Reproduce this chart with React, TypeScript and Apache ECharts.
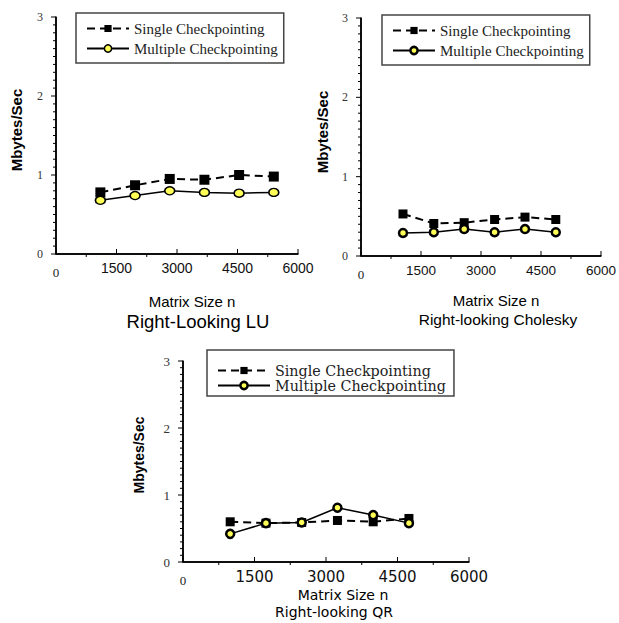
import React, { useEffect, useRef } from 'react';
import * as echarts from 'echarts';

// ---- data ----
const seriesNames = ['Single Checkpointing', 'Multiple Checkpointing'];
const panelTitles = ['Right-Looking LU', 'Right-looking Cholesky', 'Right-looking QR'];
const xAxisTitle = 'Matrix Size n';
const yAxisTitle = 'Mbytes/Sec';

const luSizes = [1100, 1960, 2820, 3680, 4540, 5400];
const luSingle = [0.78, 0.87, 0.95, 0.94, 1.0, 0.98];
const luMultiple = [0.68, 0.74, 0.8, 0.78, 0.77, 0.78];

const cholSizes = [1050, 1820, 2580, 3340, 4100, 4870];
const cholSingle = [0.53, 0.41, 0.42, 0.46, 0.49, 0.46];
const cholMultiple = [0.29, 0.3, 0.34, 0.3, 0.34, 0.3];

const qrSizes = [990, 1740, 2490, 3240, 3990, 4740];
const qrSingle = [0.6, 0.58, 0.59, 0.62, 0.6, 0.65];
const qrMultiple = [0.42, 0.58, 0.59, 0.81, 0.7, 0.58];

const xMin = 0;
const xMax = 6000;
const xStep = 1500;
const xMinorDiv = 2;
const yMin = 0;
const yMax = 3;
const yStep = 1;
const yMinorDiv = 10;

const panels: any[] = [
  {
    sizes: luSizes, single: luSingle, multiple: luMultiple, title: panelTitles[0],
    grid: { left: 56, top: 17, width: 242, height: 237 },
    legend: { left: 76, top: 13, padding: [8, 6, 7, 10], itemWidth: 42, font: 'Liberation Serif', fontSize: 15, lineHeight: 14, itemGap: 5 },
    tickFont: 'Liberation Sans', tickSize: 14,
    xNameSize: 15, xNameFont: 'Liberation Sans', xNameGap: 40, xNameShift: 30,
    yNameSize: 15, yNameGap: 32, yNameShift: 11, yLabelSize: 12,
    titleTop: 312, titleX: 198, titleSize: 18.5, titleFont: 'Liberation Sans',
    squareSize: 10, circleSize: [10, 8], circleBorder: 1.5,
  },
  {
    sizes: cholSizes, single: cholSingle, multiple: cholMultiple, title: panelTitles[1],
    grid: { left: 361, top: 18, width: 243, height: 238 },
    legend: { left: 382, top: 15, padding: [8, 6, 7, 10], itemWidth: 42, font: 'Liberation Serif', fontSize: 15, lineHeight: 14, itemGap: 5 },
    tickFont: 'Liberation Sans', tickSize: 13.5,
    xNameSize: 15, xNameFont: 'Liberation Sans', xNameGap: 37, xNameShift: 30,
    yNameSize: 15, yNameGap: 31, yNameShift: 10, yLabelSize: 12,
    titleTop: 311, titleX: 498, titleSize: 15.5, titleFont: 'Liberation Sans',
    squareSize: 9, circleSize: 8, circleBorder: 2.5,
  },
  {
    sizes: qrSizes, single: qrSingle, multiple: qrMultiple, title: panelTitles[2],
    grid: { left: 183, top: 361, width: 286, height: 201 },
    legend: { left: 207, top: 350, padding: [13, 8, 3, 10], itemWidth: 52, font: 'DejaVu Serif', fontSize: 14.3, lineHeight: 15, itemGap: 0 },
    tickFont: 'DejaVu Sans', tickSize: 15,
    xNameSize: 14, xNameFont: 'DejaVu Sans', xNameGap: 24, xNameShift: 34,
    yNameSize: 14, yNameGap: 37, yNameShift: 13, yLabelSize: 13,
    titleTop: 605, titleX: 334, titleSize: 14, titleFont: 'DejaVu Sans',
    squareSize: 9, circleSize: 8, circleBorder: 2.5,
  },
];

const YELLOW = '#ffff55';

// tick positions derived from the axis settings
const xMajorTicks: number[] = [];
const xMinorTicks: number[] = [];
for (let k = 0; k <= Math.round((xMax - xMin) / xStep); k++) {
  xMajorTicks.push(xMin + k * xStep);
  if (xMin + k * xStep < xMax) {
    for (let m = 1; m < xMinorDiv; m++) xMinorTicks.push(xMin + k * xStep + (m * xStep) / xMinorDiv);
  }
}
const yMajorTicks: number[] = [];
const yMinorTicks: number[] = [];
for (let k = 0; k <= Math.round(((yMax - yMin) / yStep) * yMinorDiv); k++) {
  const v = +(yMin + (k * yStep) / yMinorDiv).toFixed(4);
  if (k % yMinorDiv === 0) yMajorTicks.push(v);
  else yMinorTicks.push(v);
}

function tickSeries(i: number, data: number[][], size: number[], offset: number[]) {
  return {
    type: 'scatter',
    name: 'tick',
    xAxisIndex: i,
    yAxisIndex: i,
    data,
    symbol: 'rect',
    symbolSize: size,
    symbolOffset: offset,
    itemStyle: { color: '#000', opacity: 1 },
    clip: false,
    silent: true,
    emphasis: { disabled: true },
    z: 10,
  };
}

function axisLineSeries(i: number, data: number[][]) {
  return {
    type: 'line',
    name: 'axis',
    xAxisIndex: i,
    yAxisIndex: i,
    data,
    symbol: 'none',
    showSymbol: false,
    clip: false,
    silent: true,
    lineStyle: { color: '#000', width: 1.5, type: 'solid', opacity: 1 },
    emphasis: { disabled: true },
    z: 10,
  };
}

function buildOption() {
  const grid: any[] = [];
  const xAxis: any[] = [];
  const yAxis: any[] = [];
  const series: any[] = [];
  const legend: any[] = [];
  const title: any[] = [];

  panels.forEach((p, i) => {
    grid.push({ ...p.grid, z: 0 });
    xAxis.push({
      gridIndex: i,
      type: 'value',
      min: xMin,
      max: xMax,
      interval: xStep,
      z: 10,
      axisLine: { show: true, onZero: false, lineStyle: { color: '#000', width: 1.5, opacity: 1 } },
      axisTick: { show: false },
      splitLine: { show: false },
      axisLabel: {
        margin: 7,
        fontFamily: p.tickFont,
        fontSize: p.tickSize,
        color: '#111',
        formatter: (v: number) => (v === 0 ? '{z|0}' : String(v)),
        rich: { z: { fontFamily: 'Liberation Serif', fontSize: 13, color: '#222', padding: [5, 0, 0, 0] } },
      },
      name: xAxisTitle,
      nameLocation: 'middle',
      nameGap: p.xNameGap,
      nameTextStyle: {
        fontFamily: p.xNameFont,
        fontSize: p.xNameSize,
        color: '#000',
        padding: [0, 0, 0, p.xNameShift],
      },
    });
    yAxis.push({
      gridIndex: i,
      type: 'value',
      min: yMin,
      max: yMax,
      interval: yStep,
      z: 10,
      axisLine: { show: true, onZero: false, lineStyle: { color: '#000', width: 1.5, opacity: 1 } },
      axisTick: { show: false },
      splitLine: { show: false },
      axisLabel: { margin: 13, fontFamily: 'Liberation Serif', fontSize: p.yLabelSize, color: '#333' },
      name: yAxisTitle,
      nameLocation: 'middle',
      nameRotate: 90,
      nameGap: p.yNameGap,
      nameTextStyle: {
        fontFamily: 'Liberation Sans',
        fontWeight: 'bold',
        fontSize: p.yNameSize,
        color: '#000',
        padding: [0, 0, 0, p.yNameShift],
      },
    });
    // axis lines and ticks placed through the axes' own scales
    series.push(axisLineSeries(i, [[xMin, yMin], [xMax, yMin]]));
    series.push(axisLineSeries(i, [[xMin, yMin], [xMin, yMax]]));
    series.push(tickSeries(i, xMajorTicks.map((v) => [v, yMin]), [1, 5], [0, -2.5]));
    series.push(tickSeries(i, xMinorTicks.map((v) => [v, yMin]), [1, 3], [0, 1.5]));
    series.push(tickSeries(i, yMajorTicks.map((v) => [xMin, v]), [5, 1], [-2.5, 0]));
    series.push(tickSeries(i, yMinorTicks.map((v) => [xMin, v]), [3, 1], [-1.5, 0]));
    series.push({
      type: 'line',
      name: seriesNames[0],
      xAxisIndex: i,
      yAxisIndex: i,
      data: p.sizes.map((x: number, j: number) => [x, p.single[j]]),
      symbol: 'rect',
      symbolSize: p.squareSize,
      itemStyle: { color: '#000' },
      lineStyle: { color: '#000', width: 2, type: [8, 5] },
      z: 3,
    });
    series.push({
      type: 'line',
      name: seriesNames[1],
      xAxisIndex: i,
      yAxisIndex: i,
      data: p.sizes.map((x: number, j: number) => [x, p.multiple[j]]),
      symbol: 'circle',
      symbolSize: p.circleSize,
      itemStyle: { color: YELLOW, borderColor: '#000', borderWidth: p.circleBorder },
      lineStyle: { color: '#000', width: 1.5, type: 'solid' },
      z: 4,
    });
    legend.push({
      orient: 'vertical',
      left: p.legend.left,
      top: p.legend.top,
      padding: p.legend.padding,
      itemGap: p.legend.itemGap,
      itemWidth: p.legend.itemWidth,
      itemHeight: 9,
      borderColor: '#444',
      borderWidth: 1.5,
      selectedMode: false,
      textStyle: {
        fontFamily: p.legend.font,
        fontSize: p.legend.fontSize,
        lineHeight: p.legend.lineHeight,
        color: '#222',
      },
      data: [
        { name: seriesNames[0], itemStyle: { color: '#000' } },
        { name: seriesNames[1], itemStyle: { color: YELLOW, borderColor: '#000', borderWidth: p.circleBorder } },
      ],
    });
    title.push({
      text: p.title,
      left: p.titleX,
      top: p.titleTop,
      textAlign: 'center',
      padding: 0,
      textStyle: { fontFamily: p.titleFont, fontSize: p.titleSize, fontWeight: 'normal', color: '#000' },
    });
  });

  return {
    animation: false,
    title,
    grid,
    xAxis,
    yAxis,
    series,
    legend,
  };
}

export default function App() {
  const ref = useRef<HTMLDivElement>(null);
  useEffect(() => {
    if (!ref.current) return;
    const chart = echarts.init(ref.current, null, { renderer: 'svg' });
    chart.setOption(buildOption() as any);
    return () => chart.dispose();
  }, []);
  return (
    <div
      ref={ref}
      style={{ position: 'fixed', left: 0, top: 0, width: 619, height: 623, background: '#fff' }}
    />
  );
}
